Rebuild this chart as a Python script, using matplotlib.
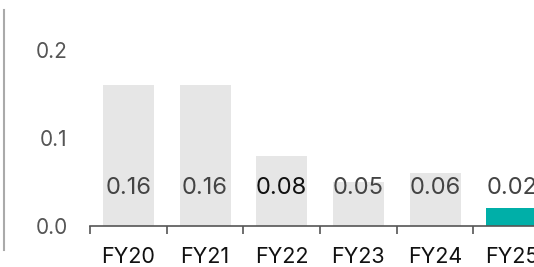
import matplotlib.pyplot as plt
from matplotlib.lines import Line2D

plt.rcParams['font.family'] = ['Inter', 'DejaVu Sans']

years = ['FY20', 'FY21', 'FY22', 'FY23', 'FY24', 'FY25']
values = [0.16, 0.16, 0.08, 0.05, 0.06, 0.02]
labels = ['0.16', '0.16', '0.08', '0.05', '0.06', '0.02']
colors = ['#e6e6e6'] * 5 + ['#00afa8']
label_colors = ['#444444', '#444444', '#111111', '#444444', '#444444', '#444444']

fig = plt.figure(figsize=(5.34, 2.67), dpi=100)
ax = fig.add_axes([90 / 534, 41 / 267, 444 / 534, 193.6 / 267])

x = list(range(len(years)))
ax.bar(x, values, width=0.665, color=colors, zorder=1)
for xi, lab, c in zip(x, labels, label_colors):
    ax.text(xi, 0.043, lab, ha='center', va='center', fontsize=17, color=c, zorder=3)

ax.set_xlim(-0.5, 5.29)
ax.set_ylim(0, 0.22)

ax.set_xticks(x)
ax.set_xticklabels(years, fontsize=15.5, color='#111111')
ax.set_xticks([i - 0.5 for i in x], minor=True)
ax.tick_params(axis='x', which='major', length=0, pad=15)
ax.tick_params(axis='x', which='minor', length=6, width=1.2, color='#555555')

ax.set_yticks([0.0, 0.1, 0.2])
ax.set_yticklabels(['0.0', '0.1', '0.2'], fontsize=15, color='#555555')
ax.tick_params(axis='y', length=0, pad=16)

for s in ['top', 'right', 'left']:
    ax.spines[s].set_visible(False)
ax.spines['bottom'].set_color('#555555')
ax.spines['bottom'].set_linewidth(1.2)

fig.add_artist(Line2D([4 / 534, 4 / 534], [1 - 10 / 267, 1 - 250 / 267],
                      color='#aaaaaa', linewidth=1.5))

fig.savefig('out.png', dpi=100)
